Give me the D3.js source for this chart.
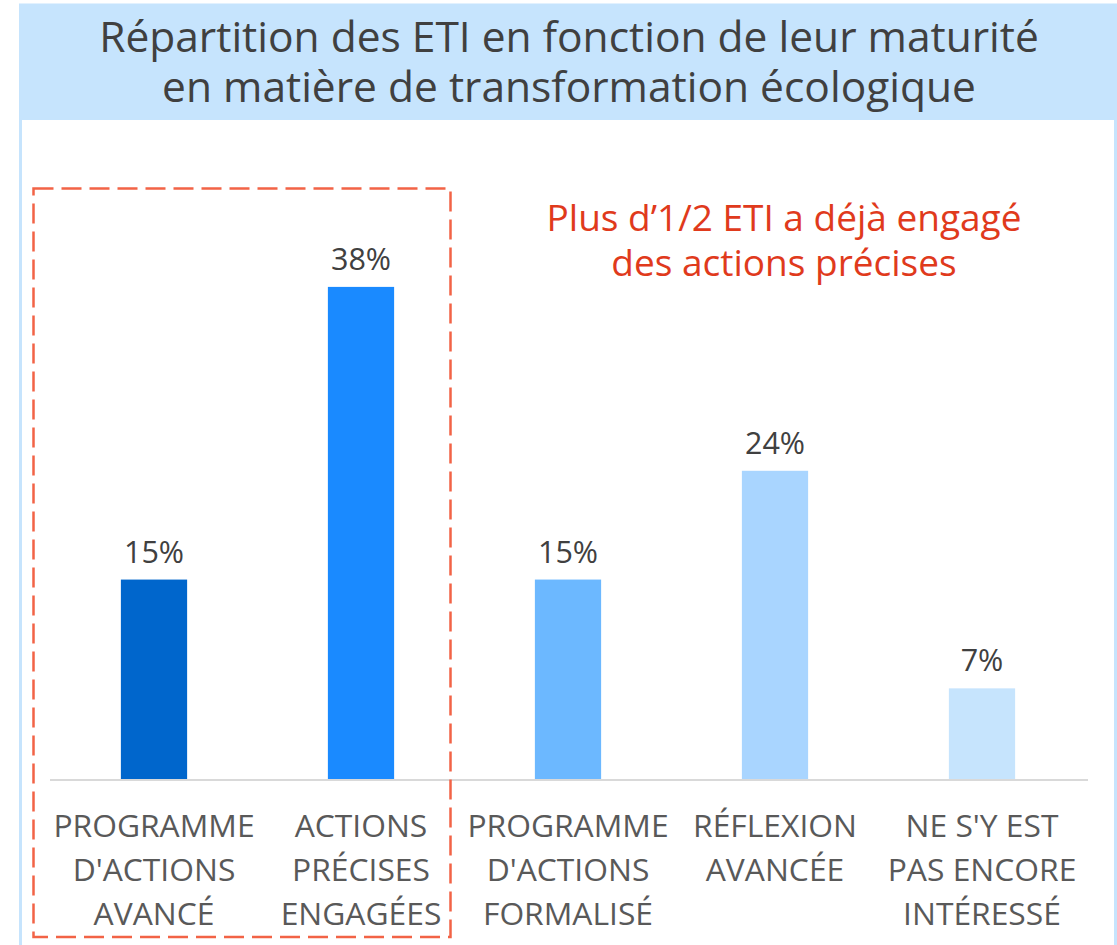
<!DOCTYPE html>
<html>
<head>
<meta charset="utf-8">
<script src="https://cdn.jsdelivr.net/npm/d3@7"></script>
<style>
  html, body { margin: 0; padding: 0; background: #ffffff; }
  svg { display: block; font-family: "Open Sans", "Noto Sans", sans-serif; }
</style>
</head>
<body>
<svg id="chart" width="1117" height="945"></svg>
<script>
// ---- Data ----
const titleLines = ["Répartition des ETI en fonction de leur maturité", "en matière de transformation écologique"];
const categories = [
  ["PROGRAMME", "D'ACTIONS", "AVANCÉ"],
  ["ACTIONS", "PRÉCISES", "ENGAGÉES"],
  ["PROGRAMME", "D'ACTIONS", "FORMALISÉ"],
  ["RÉFLEXION", "AVANCÉE"],
  ["NE S'Y EST", "PAS ENCORE", "INTÉRESSÉ"]
];
const values = [15.4, 38, 15.4, 23.8, 7.0];
const barColors = ["#0066cc", "#1a8aff", "#6cb8ff", "#a9d5ff", "#c6e4fd"];
const annotationLines = ["Plus d\u20191/2 ETI a déjà engagé", "des actions précises"];

// ---- Layout ----
const svg = d3.select("#chart");
const W = 1117, H = 945;
const plot = { left: 50.5, right: 1085.5, bottom: 779, top: 261 };

function centeredText(g, data, opts) {
  return g.selectAll("text").data(data).join("text")
    .attr("x", opts.x).attr("y", opts.y)
    .attr("text-anchor", "middle")
    .attr("font-size", opts.size)
    .attr("font-weight", opts.weight || 400)
    .attr("fill", opts.fill)
    .text(opts.text || (d => d));
}

// outer light-blue frame and banner
svg.append("rect")
  .attr("x", 20.5).attr("y", 5)
  .attr("width", 1115.5 - 20.5).attr("height", 950)
  .attr("fill", "#ffffff").attr("stroke", "#c6e4fd").attr("stroke-width", 3);
svg.append("rect")
  .attr("x", 19).attr("y", 5).attr("width", W - 19).attr("height", 115)
  .attr("fill", "#c6e4fd");

centeredText(svg.append("g"), titleLines, {
  x: () => 569, y: (d, i) => 52 + i * 49.5, size: 42.5, fill: "#404040"
});

// scales
const x = d3.scaleBand()
  .domain(d3.range(categories.length))
  .range([plot.left, plot.right])
  .paddingInner(0.68).paddingOuter(0.34);
const y = d3.scaleLinear().domain([0, 40]).range([plot.bottom, plot.top]);

// axis baseline
svg.append("line")
  .attr("x1", 50).attr("x2", 1088)
  .attr("y1", plot.bottom + 1).attr("y2", plot.bottom + 1)
  .attr("stroke", "#d9d9d9").attr("stroke-width", 2);

// bars
svg.append("g").selectAll("rect").data(values).join("rect")
  .attr("x", (d, i) => x(i))
  .attr("y", d => y(d))
  .attr("width", x.bandwidth())
  .attr("height", d => y(0) - y(d))
  .attr("fill", (d, i) => barColors[i]);

// value labels
centeredText(svg.append("g"), values, {
  x: (d, i) => x(i) + x.bandwidth() / 2, y: d => y(d) - 17, size: 30.5,
  fill: "#404040", text: d => d3.format(".0f")(d) + "%"
});

// category labels
const catLines = categories.flatMap((lines, i) => lines.map((t, j) => ({ t, i, j })));
centeredText(svg.append("g"), catLines, {
  x: d => x(d.i) + x.bandwidth() / 2, y: d => 837 + d.j * 44, size: 31.8,
  fill: "#595959", text: d => d.t
});

// dashed highlight box
svg.append("rect")
  .attr("x", 33.5).attr("y", 188.5)
  .attr("width", 450.5 - 33.5).attr("height", 937 - 188.5)
  .attr("fill", "none")
  .attr("stroke", "#f26346").attr("stroke-width", 2.5)
  .attr("stroke-dasharray", "20 8");

// annotation
centeredText(svg.append("g"), annotationLines, {
  x: () => 784, y: (d, i) => 231 + i * 45, size: 37, fill: "#e03a1c"
});
</script>
</body>
</html>
